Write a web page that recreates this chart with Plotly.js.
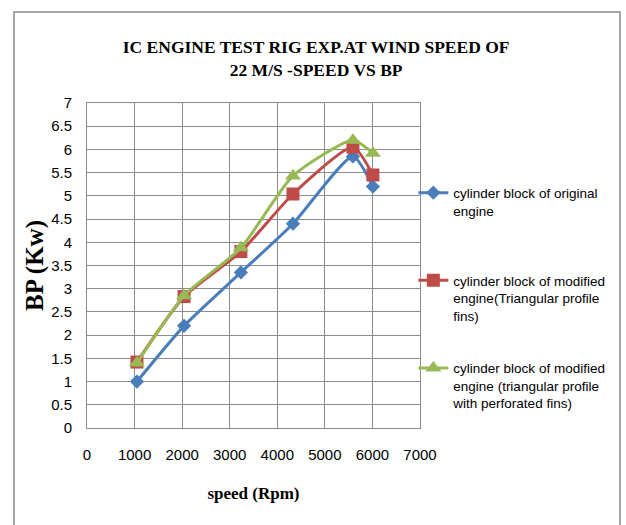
<!DOCTYPE html>
<html><head><meta charset="utf-8">
<script src="https://cdn.plot.ly/plotly-3.0.1.min.js"></script>
<style>html,body{margin:0;padding:0;background:#fff;}#chart{width:626px;height:525px;}</style>
</head><body><div id="chart"></div>
<script>
const speed = [1050, 2040, 3235, 4330, 5590, 6010];
const bpOriginal = [1.0, 2.2, 3.35, 4.4, 5.85, 5.2];
const bpTriangular = [1.42, 2.83, 3.8, 5.04, 6.05, 5.45];
const bpPerforated = [1.4, 2.85, 3.88, 5.43, 6.2, 5.92];
const seriesNames = [
  "cylinder block of original<br>engine<br> ",
  "cylinder block of modified<br>engine(Triangular profile<br>fins)",
  "cylinder block of modified<br>engine (triangular profile<br>with perforated fins)"
];
const xTicks = [0, 1000, 2000, 3000, 4000, 5000, 6000, 7000];
const yTicks = [0, 0.5, 1, 1.5, 2, 2.5, 3, 3.5, 4, 4.5, 5, 5.5, 6, 6.5, 7];

const tickFont = {family: "Liberation Sans Narrow, Arial Narrow, sans-serif", size: 15, color: "#000"};
const serifBold = "Liberation Serif, Times New Roman, serif";

function tr(y, name, color, symbol, size, group) {
  return {
    x: speed, y: y, name: name, type: "scatter", mode: "lines+markers",
    legendgroup: group,
    line: {color: color, width: 3, shape: "spline", smoothing: 0.6},
    marker: {color: color, symbol: symbol, size: size}
  };
}
const data = [
  tr(bpOriginal, seriesNames[0], "#4A7EBB", "diamond", 11, "a"),
  tr(bpTriangular, seriesNames[1], "#BE4B48", "square", 13, "b"),
  tr(bpPerforated, seriesNames[2], "#98B954", "triangle-up", 14, "c")
];

const layout = {
  width: 626, height: 525,
  paper_bgcolor: "#fff", plot_bgcolor: "#fff",
  margin: {l: 87, r: 206, t: 103, b: 97, autoexpand: false},
  title: {
    text: "<b>IC ENGINE TEST RIG EXP.AT WIND SPEED OF<br>22 M/S -SPEED VS BP</b>",
    font: {family: serifBold, size: 17.5, color: "#000"},
    x: 0.505, xanchor: "center", y: 0.899, yanchor: "middle"
  },
  xaxis: {
    range: [0, 7000], tickvals: xTicks, ticktext: xTicks.map(String),
    showgrid: true, gridcolor: "#8c8c8c", gridwidth: 1,
    showline: true, linecolor: "#8c8c8c", linewidth: 1, mirror: true,
    zeroline: false, ticks: "", ticklabelstandoff: 13,
    tickfont: tickFont,
    title: {text: "<b>speed (Rpm)</b>", font: {family: serifBold, size: 17, color: "#000"}, standoff: 25}
  },
  yaxis: {
    range: [0, 7], tickvals: yTicks, ticktext: yTicks.map(String),
    showgrid: true, gridcolor: "#8c8c8c", gridwidth: 1,
    showline: true, linecolor: "#8c8c8c", linewidth: 1, mirror: true,
    zeroline: false, ticks: "", ticklabelstandoff: 11,
    tickfont: tickFont,
    title: {text: "<b>BP (Kw)</b>", font: {family: serifBold, size: 25, color: "#000"}, standoff: 0}
  },
  legend: {
    x: 0.98, xanchor: "left", y: 0.771, yanchor: "top",
    valign: "top", traceorder: "grouped", tracegroupgap: 32,
    font: {family: "Liberation Sans Narrow, Arial Narrow, sans-serif", size: 13.5, color: "#000"},
    bgcolor: "rgba(0,0,0,0)", itemwidth: 30
  },
  shapes: [{
    type: "rect", xref: "paper", yref: "paper",
    x0: -73/333, x1: 533/333, y0: -0.5, y1: 91/325 + 1,
    line: {color: "#a6a6a6", width: 2}, fillcolor: "rgba(0,0,0,0)", layer: "below"
  }]
};
Plotly.newPlot("chart", data, layout, {displayModeBar: false, staticPlot: true});
</script></body></html>
